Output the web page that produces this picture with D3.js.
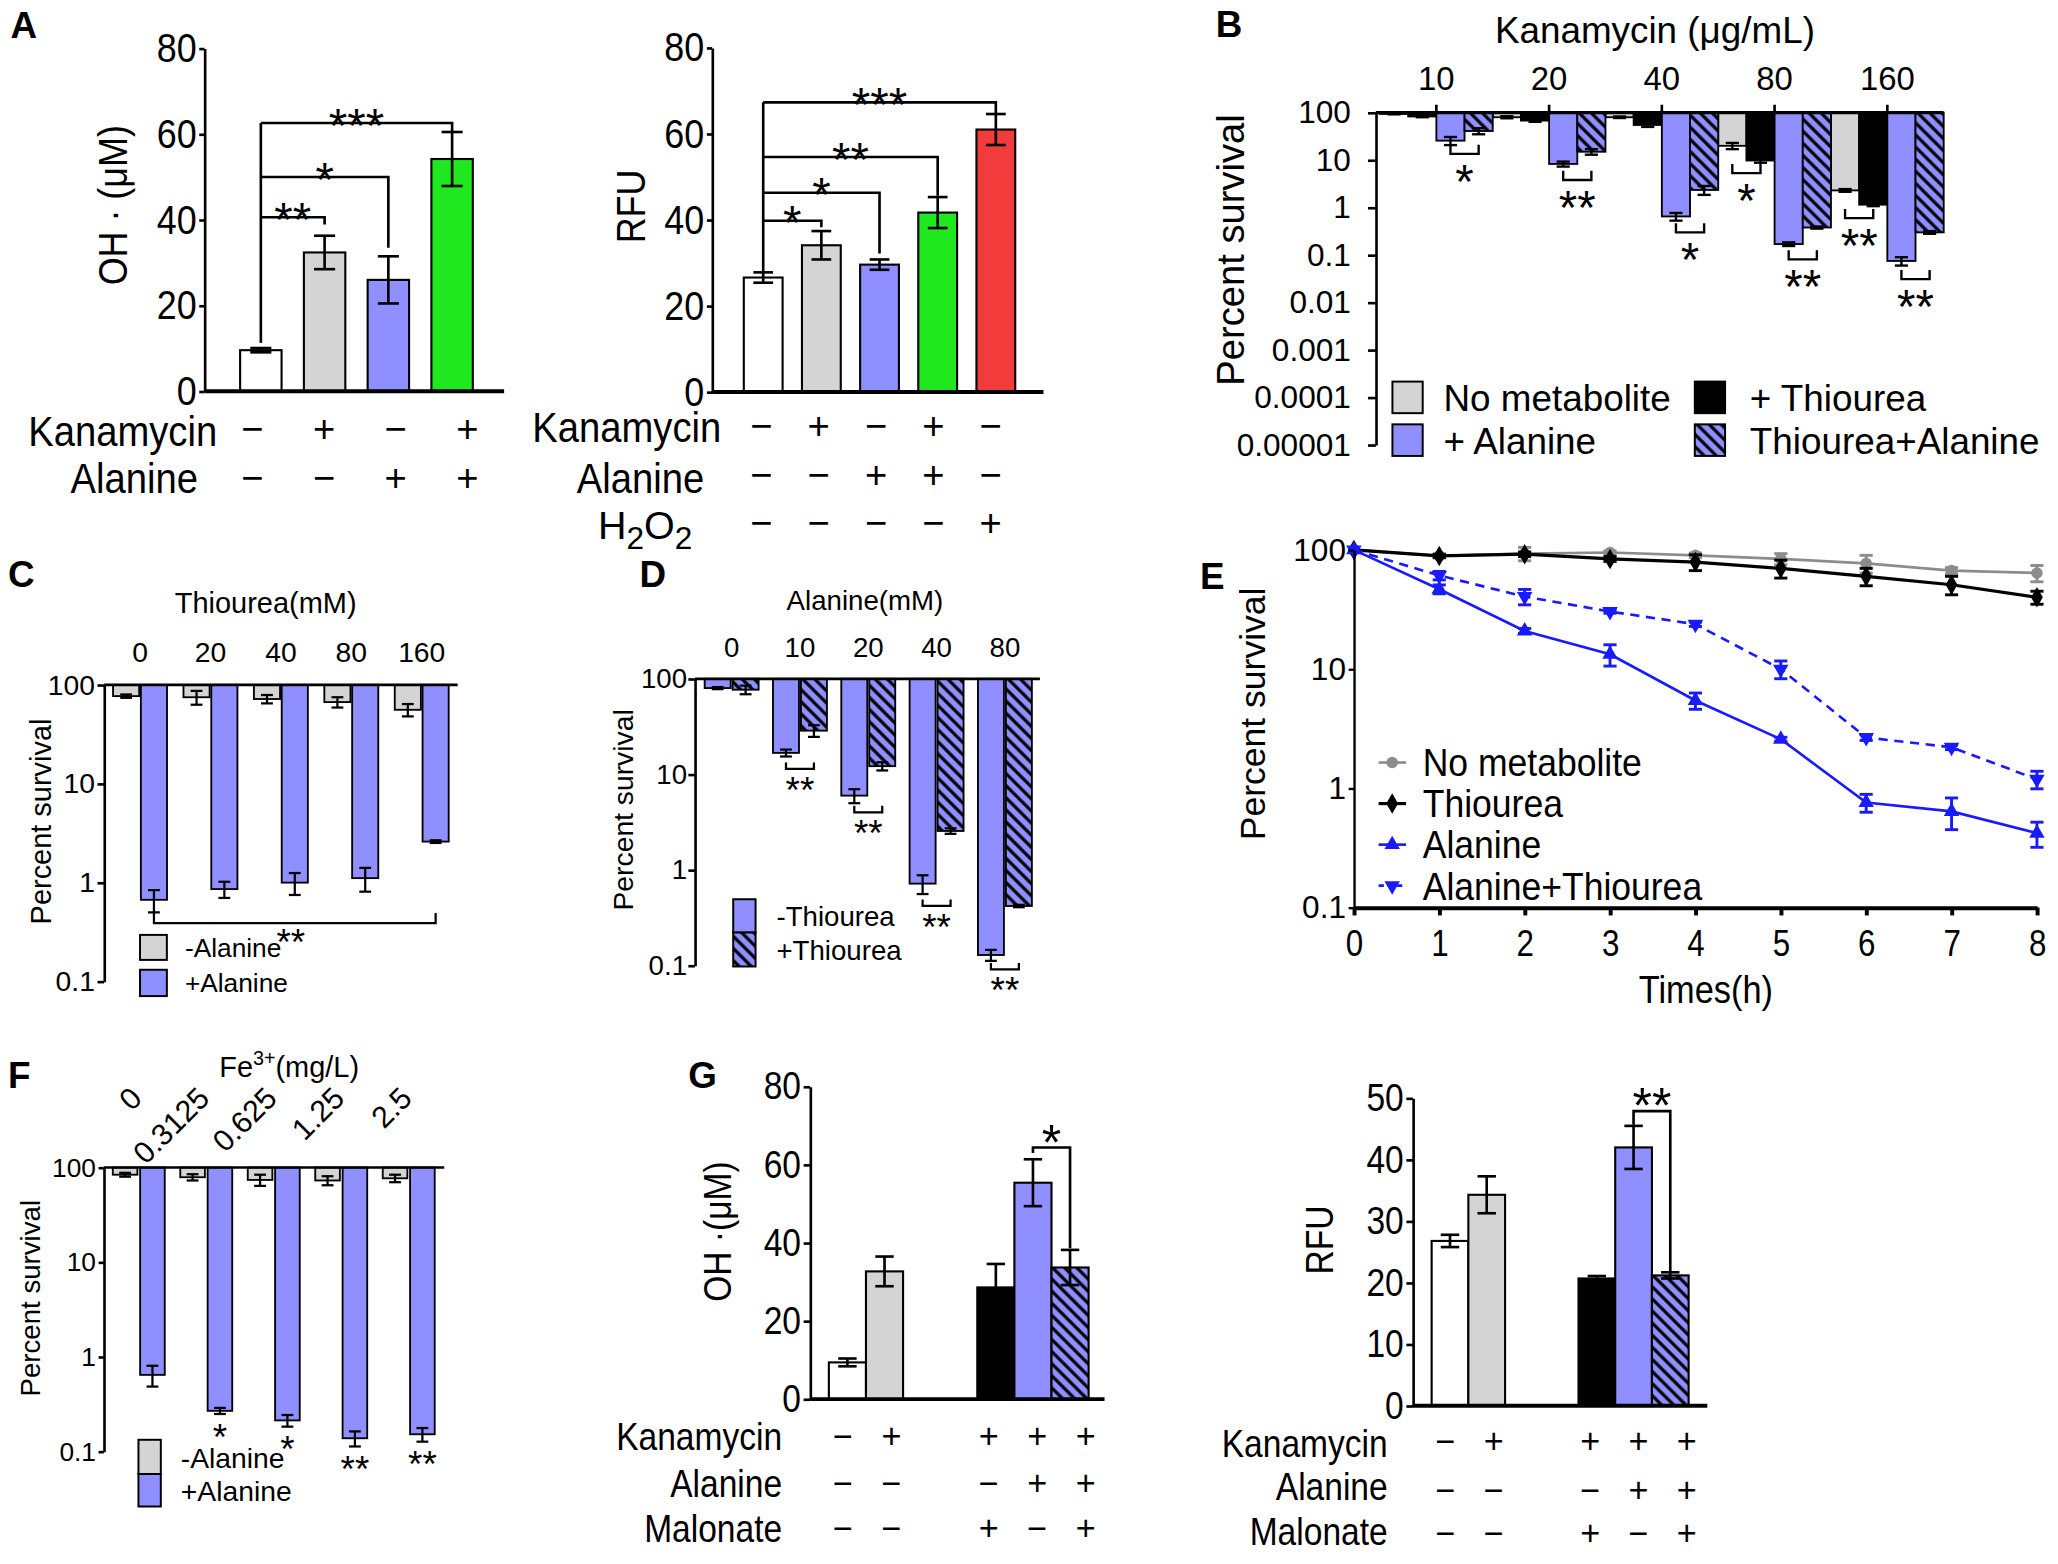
<!DOCTYPE html>
<html>
<head>
<meta charset="utf-8">
<title>Alanine, ROS and kanamycin killing</title>
<script src="https://cdn.jsdelivr.net/npm/d3@7"></script>
<style>
  html, body { margin: 0; padding: 0; background: #fff; }
  svg { display: block; }
</style>
</head>
<body>
<svg id="fig"></svg>
<script>
var FONT = "'Liberation Sans', Arial, Helvetica, sans-serif";
var WHITE = "#ffffff", GREY = "#d4d4d4", BLUE = "#8f8fff", GREEN = "#1fe81f", RED = "#f23c3c";
var LINE_GREY = "#8c8c8c", LINE_BLUE = "#1a1aff";

// ---- panel A, hydroxyl radical ----
var aOhKanamycin = ["−", "+", "−", "+"];
var aOhAlanine = ["−", "−", "+", "+"];
var aOhValues = [9.6, 32.4, 26.0, 54.2];
var aOhErrors = [0.5, 3.9, 5.5, 6.3];
var aOhTicks = [0, 20, 40, 60, 80];
// vs first bar: [target, bracket level, end level, stars]
var aOhSig = [[1, 40.6, 38.9, "**"], [2, 50.0, 33.5, "*"], [3, 62.6, 60.6, "***"]];

// ---- panel A, RFU ----
var aRfuKanamycin = ["−", "+", "−", "+", "−"];
var aRfuAlanine = ["−", "−", "+", "+", "−"];
var aRfuH2O2 = ["−", "−", "−", "−", "+"];
var aRfuValues = [26.6, 34.1, 29.6, 41.7, 61.0];
var aRfuErrors = [1.2, 3.3, 1.2, 3.6, 3.6];
var aRfuSig = [[1, 39.8, 38.3, "*"], [2, 46.3, 32.2, "*"], [3, 54.6, 45.6, "**"], [4, 67.3, 64.8, "***"]];

// ---- panel B ----
var bDoses = ["10", "20", "40", "80", "160"];
var bSeries = ["No metabolite", "+ Thiourea", "+ Alanine", "Thiourea+Alanine"];
var bNoMetabolite = [94, 80, 80, 20, 2.3];
var bNoMetaboliteErr = [2, 4, 3, 3, 0.15];
var bThiourea = [83, 68, 55, 9.8, 1.15];
var bThioureaErr = [3, 4, 5, 1, 0.08];
var bAlanine = [25.7, 8.3, 0.65, 0.17, 0.075];
var bAlanineErr = [5, 1, 0.12, 0.015, 0.015];
var bThioAla = [41, 15, 2.35, 0.38, 0.30];
var bThioAlaErr = [6, 2, 0.5, 0.02, 0.02];
var bTicks = [100, 10, 1, 0.1, 0.01, 0.001, 0.0001, 0.00001];
var bTickLabels = ["100", "10", "1", "0.1", "0.01", "0.001", "0.0001", "0.00001"];
// [dose, left series, right series, bracket level, stars]
var bSig = [["10", 2, 3, 13.5, "*"], ["20", 2, 3, 3.8, "**"], ["40", 2, 3, 0.3, "*"],
            ["80", 0, 1, 5.3, "*"], ["80", 2, 3, 0.081, "**"], ["160", 0, 1, 0.6, "**"], ["160", 2, 3, 0.031, "**"]];

// ---- panel C ----
var cThiourea = ["0", "20", "40", "80", "160"];
var cNoAlanine = [77, 75, 72, 67, 56];
var cNoAlanineErr = [3, 12, 7, 8, 8];
var cAlanine = [0.67, 0.86, 1.0, 1.11, 2.6];
var cAlanineErr = [0.17, 0.16, 0.25, 0.3, 0.08];
var cSigLevel = 0.39;
var survTicks = [100, 10, 1, 0.1];
var survTickLabels = ["100", "10", "1", "0.1"];

// ---- panel D ----
var dAlanine = ["0", "10", "20", "40", "80"];
var dNoThiourea = [80, 16.8, 6.0, 0.72, 0.129];
var dNoThioureaErr = [2, 1.4, 1.0, 0.16, 0.017];
var dThiourea = [77, 28.7, 12.2, 2.56, 0.42];
var dThioureaErr = [8, 4, 1.2, 0.17, 0.012];
var dSig = [["10", 11.4, "**"], ["20", 4.0, "**"], ["40", 0.42, "**"], ["80", 0.091, "**"]];

// ---- panel E ----
var eHours = [0, 1, 2, 3, 4, 5, 6, 7, 8];
var eNoMetabolite = [100, 89, 93, 95, 90, 84, 77, 67, 64];
var eNoMetaboliteErr = [0, 3, 12, 3, 4, 9, 13, 4, 10];
var eThiourea = [100, 89, 92, 84, 79, 70, 60, 51, 40];
var eThioureaErr = [0, 3, 4, 4, 12, 12, 10, 9, 5];
var eAlanine = [100, 46.8, 20.9, 13.3, 5.45, 2.58, 0.76, 0.64, 0.42];
var eAlanineErr = [0, 4, 1, 2.7, 0.85, 0.1, 0.13, 0.19, 0.1];
var eAlaThio = [100, 61, 40.6, 30.4, 23.8, 10, 2.67, 2.21, 1.19];
var eAlaThioErr = [0, 5, 6, 1, 1, 1.7, 0.15, 0.1, 0.2];
var eLegend = ["No metabolite", "Thiourea", "Alanine", "Alanine+Thiourea"];

// ---- panel F ----
var fIron = ["0", "0.3125", "0.625", "1.25", "2.5"];
var fNoAlanine = [84, 79, 74, 73, 77];
var fNoAlanineErr = [4, 6, 10, 8, 7];
var fAlanine = [0.645, 0.269, 0.213, 0.138, 0.152];
var fAlanineErr = [0.16, 0.02, 0.03, 0.025, 0.025];
var fSig = ["", "*", "*", "**", "**"];

// ---- panel G ----
var gKanamycin = ["−", "+", "+", "+", "+"];
var gAlanine = ["−", "−", "−", "+", "+"];
var gMalonate = ["−", "−", "+", "−", "+"];
var gOhValues = [9.4, 32.7, 28.6, 55.4, 33.7];
var gOhErrors = [1, 3.8, 6, 6, 4.5];
var gRfuValues = [26.8, 34.3, 20.7, 42.0, 21.2];
var gRfuErrors = [1, 3, 0.4, 3.5, 0.5];
var gRfuTicks = [0, 10, 20, 30, 40, 50];

// ------------------------------------------------------------------
var svg = d3.select("#fig")
    .attr("width", 2058)
    .attr("height", 1564)
    .attr("viewBox", "0 0 1564 1188.6")
    .style("font-family", FONT);

var pat = svg.append("defs").append("pattern")
    .attr("id", "hatch")
    .attr("patternUnits", "userSpaceOnUse")
    .attr("width", 6.5).attr("height", 6.5)
    .attr("patternTransform", "rotate(-45)");
pat.append("rect").attr("width", 6.5).attr("height", 6.5).attr("fill", BLUE);
pat.append("line").attr("x1", 1.4).attr("x2", 1.4).attr("y1", 0).attr("y2", 6.5)
    .attr("stroke", "#000").attr("stroke-width", 2.4);

function squeeze(node, k) {
    var len = node.getComputedTextLength();
    d3.select(node).attr("textLength", len * k).attr("lengthAdjust", "spacingAndGlyphs");
}

function label(g, x, y, s, size, opt) {
    opt = opt || {};
    var t = g.append("text")
        .attr("font-size", size)
        .attr("text-anchor", opt.anchor || "start")
        .attr("dy", opt.dy == null ? "0.35em" : opt.dy)
        .text(s);
    if (opt.rotate) t.attr("transform", "translate(" + x + "," + y + ") rotate(" + opt.rotate + ")");
    else t.attr("x", x).attr("y", y);
    if (opt.weight) t.attr("font-weight", opt.weight);
    if (opt.k) squeeze(t.node(), opt.k);
    return t;
}

function stars(g, x, yc, s, size) {
    return label(g, x, yc, s, size, {anchor: "middle", dy: "0.56em"});
}

function line(g, x1, y1, x2, y2, sw, color) {
    return g.append("line").attr("x1", x1).attr("y1", y1).attr("x2", x2).attr("y2", y2)
        .attr("stroke", color || "#000").attr("stroke-width", sw || 2);
}

function path(g, d, sw) {
    return g.append("path").attr("d", d).attr("fill", "none").attr("stroke", "#000")
        .attr("stroke-width", sw || 2);
}

function errBar(g, cx, y1, y2, cap, color, sw) {
    color = color || "#000";
    line(g, cx, y1, cx, y2, sw, color);
    line(g, cx - cap / 2, y1, cx + cap / 2, y1, sw, color);
    line(g, cx - cap / 2, y2, cx + cap / 2, y2, sw, color);
}

function leftAxis(g, x, scale, ticks, labels, size, tickSize, pad, k, sw) {
    var ax = d3.axisLeft(scale).tickValues(ticks).tickSize(tickSize).tickPadding(pad).tickSizeOuter(0);
    if (labels) ax.tickFormat(function (d, i) { return labels[i]; });
    var a = g.append("g").attr("transform", "translate(" + x + ",0)").call(ax);
    a.attr("font-size", size).attr("font-family", FONT);
    a.selectAll("line, path").attr("stroke-width", sw || 2);
    if (k) a.selectAll("text").each(function () { squeeze(this, k); });
    return a;
}

function signRows(g, xs, rows, ys, size) {
    rows.forEach(function (signs, r) {
        signs.forEach(function (s, i) {
            label(g, xs(i), ys[r], s, size, {anchor: "middle"});
        });
    });
}

function panelLetter(x, y, s) {
    label(svg, x, y, s, 28, {weight: "bold", dy: 0});
}

// ------------------------------------------------------------------
// A, OH radical
(function () {
    var g = svg.append("g");
    var x = d3.scaleBand().domain(d3.range(aOhValues.length)).range([174, 367.8])
        .paddingInner(0.35).paddingOuter(0.175);
    var y = d3.scaleLinear().domain([0, 80]).range([297.4, 36.8]);
    var cx = function (i) { return x(i) + x.bandwidth() / 2; };
    var fills = [WHITE, GREY, BLUE, GREEN];

    g.selectAll("rect").data(aOhValues).join("rect")
        .attr("x", function (d, i) { return x(i); })
        .attr("y", function (d) { return y(d); })
        .attr("width", x.bandwidth())
        .attr("height", function (d) { return y(0) - y(d); })
        .attr("fill", function (d, i) { return fills[i]; })
        .attr("stroke", "#000").attr("stroke-width", 1.6);
    aOhValues.forEach(function (v, i) {
        errBar(g, cx(i), y(v + aOhErrors[i]), y(v - aOhErrors[i]), 16, "#000", 2);
    });

    leftAxis(g, 155.4, y, aOhTicks, null, 31, 4, 2, 0.88);
    line(g, 155.4, y(0), 383.1, y(0), 3);

    var x0 = cx(0);
    var top = d3.max(aOhSig, function (s) { return s[1]; });
    line(g, x0, y(top), x0, y(aOhValues[0] + aOhErrors[0] + 1.2), 2);
    aOhSig.forEach(function (s) {
        path(g, "M" + x0 + "," + y(s[1]) + "H" + cx(s[0]) + "V" + y(s[2]));
        stars(g, (x0 + cx(s[0])) / 2, y(s[1]) - 6, s[3], 36);
    });

    label(g, 85.7, 156, "OH · (μM)", 31, {anchor: "middle", rotate: -90, k: 0.88});
    label(g, 21.4, 327.4, "Kanamycin", 33, {k: 0.88});
    label(g, 53.6, 362.8, "Alanine", 33, {k: 0.88});
    var sx = d3.scalePoint().domain(d3.range(4)).range([191.8, 355.2]);
    signRows(g, sx, [aOhKanamycin, aOhAlanine], [326, 362.8], 29);
})();

// A, RFU
(function () {
    var g = svg.append("g");
    var x = d3.scaleBand().domain(d3.range(aRfuValues.length)).range([557.9, 778.9])
        .paddingInner(0.333).paddingOuter(0.1665);
    var y = d3.scaleLinear().domain([0, 80]).range([297.9, 36.3]);
    var cx = function (i) { return x(i) + x.bandwidth() / 2; };
    var fills = [WHITE, GREY, BLUE, GREEN, RED];

    g.selectAll("rect").data(aRfuValues).join("rect")
        .attr("x", function (d, i) { return x(i); })
        .attr("y", function (d) { return y(d); })
        .attr("width", x.bandwidth())
        .attr("height", function (d) { return y(0) - y(d); })
        .attr("fill", function (d, i) { return fills[i]; })
        .attr("stroke", "#000").attr("stroke-width", 1.6);
    aRfuValues.forEach(function (v, i) {
        errBar(g, cx(i), y(v + aRfuErrors[i]), y(v - aRfuErrors[i]), 15, "#000", 2);
    });

    leftAxis(g, 541.2, y, aOhTicks, null, 31, 4, 2, 0.88);
    line(g, 541.2, y(0), 793, y(0), 3);

    var x0 = cx(0);
    var top = d3.max(aRfuSig, function (s) { return s[1]; });
    line(g, x0, y(top), x0, y(aRfuValues[0] + aRfuErrors[0] + 0.3), 2);
    aRfuSig.forEach(function (s) {
        path(g, "M" + x0 + "," + y(s[1]) + "H" + cx(s[0]) + "V" + y(s[2]));
        stars(g, (x0 + cx(s[0])) / 2, y(s[1]) - 6, s[3], 36);
    });

    label(g, 479.5, 156.9, "RFU", 31, {anchor: "middle", rotate: -90, k: 0.88});
    label(g, 404.5, 324.6, "Kanamycin", 33, {k: 0.88});
    label(g, 438.3, 362.8, "Alanine", 33, {k: 0.88});
    var h = g.append("text").attr("x", 454.4).attr("y", 410).attr("font-size", 30);
    h.append("tspan").text("H");
    h.append("tspan").attr("dy", 7).attr("font-size", 24).text("2");
    h.append("tspan").attr("dy", -7).text("O");
    h.append("tspan").attr("dy", 7).attr("font-size", 24).text("2");
    var sx = d3.scalePoint().domain(d3.range(5)).range([578.7, 752.8]);
    signRows(g, sx, [aRfuKanamycin, aRfuAlanine, aRfuH2O2], [323.3, 360.6, 397], 29);
})();

// B, kanamycin dose series
(function () {
    var g = svg.append("g");
    var x = d3.scaleBand().domain(bDoses).range([1048.75, 1477.15]);
    var inner = d3.scaleBand().domain(d3.range(4)).range([0, x.bandwidth()]);
    var y = d3.scaleLog().domain([1e-5, 100]).range([338.1, 85.6]);
    var series = [bNoMetabolite, bThiourea, bAlanine, bThioAla];
    var errs = [bNoMetaboliteErr, bThioureaErr, bAlanineErr, bThioAlaErr];
    var fills = [GREY, "#000", BLUE, "url(#hatch)"];
    var cx = function (dose, s) { return x(dose) + inner(s) + inner.bandwidth() / 2; };

    series.forEach(function (vals, s) {
        g.selectAll(null).data(vals).join("rect")
            .attr("x", function (d, i) { return x(bDoses[i]) + inner(s); })
            .attr("y", y(100))
            .attr("width", inner.bandwidth())
            .attr("height", function (d) { return y(d) - y(100); })
            .attr("fill", fills[s]).attr("stroke", "#000").attr("stroke-width", 1.4);
    });
    series.forEach(function (vals, s) {
        vals.forEach(function (v, i) {
            var e = errs[s][i];
            errBar(g, cx(bDoses[i], s), y(v + e), y(v - e), 10, "#000", 1.8);
        });
    });

    leftAxis(g, 1045.6, y, bTicks, bTickLabels, 24, 6, 13, null, 2);
    var ta = g.append("g").attr("transform", "translate(0," + y(100) + ")")
        .call(d3.axisTop(x).tickSize(6).tickPadding(11));
    ta.select(".domain").remove();
    ta.attr("font-size", 25).attr("font-family", FONT);
    ta.selectAll("line").attr("stroke-width", 2);
    line(g, 1045.6, y(100), 1477, y(100), 2.6);

    bSig.forEach(function (s) {
        var x1 = cx(s[0], s[1]), x2 = cx(s[0], s[2]), yl = y(s[3]);
        path(g, "M" + x1 + "," + (yl - 7) + "V" + yl + "H" + x2 + "V" + (yl - 7), 1.8);
        stars(g, (x1 + x2) / 2, yl + 13, s[4], 36);
    });

    label(g, 1257.7, 22.8, "Kanamycin (μg/mL)", 28, {anchor: "middle"});
    label(g, 934.9, 190, "Percent survival", 29, {anchor: "middle", rotate: -90});

    // legend: grey/black on the first row, blue/hatched on the second
    var boxX = [1058.2, 1288], boxY = [290, 322.5], textX = [1097, 1329.8];
    var order = [[0, 0, 0], [1, 1, 0], [2, 0, 1], [3, 1, 1]];
    order.forEach(function (o) {
        g.append("rect").attr("x", boxX[o[1]]).attr("y", boxY[o[2]]).attr("width", 23).attr("height", 24)
            .attr("fill", fills[o[0]]).attr("stroke", "#000").attr("stroke-width", 1.5);
        label(g, textX[o[1]], boxY[o[2]] + 12.5, bSeries[o[0]], 28);
    });
})();

// C, thiourea dose
(function () {
    var g = svg.append("g");
    var x = d3.scaleBand().domain(cThiourea).range([79.65, 347.25]);
    var inner = d3.scaleBand().domain([0, 1]).range([-20.5, 20.5]).paddingInner(0.06);
    var y = d3.scaleLog().domain([0.1, 100]).range([745.9, 520.5]);
    var series = [cNoAlanine, cAlanine], errs = [cNoAlanineErr, cAlanineErr];
    var fills = [GREY, BLUE];
    var cx = function (d, s) { return x(d) + x.bandwidth() / 2 + inner(s) + inner.bandwidth() / 2; };

    series.forEach(function (vals, s) {
        g.selectAll(null).data(vals).join("rect")
            .attr("x", function (d, i) { return x(cThiourea[i]) + x.bandwidth() / 2 + inner(s); })
            .attr("y", y(100))
            .attr("width", inner.bandwidth())
            .attr("height", function (d) { return y(d) - y(100); })
            .attr("fill", fills[s]).attr("stroke", "#000").attr("stroke-width", 1.4);
        vals.forEach(function (v, i) {
            errBar(g, cx(cThiourea[i], s), y(v + errs[s][i]), y(v - errs[s][i]), 9, "#000", 1.7);
        });
    });

    leftAxis(g, 79.1, y, survTicks, survTickLabels, 21.5, 5, 2, null, 2);
    line(g, 79.1, y(100), 347.8, y(100), 2);
    var ta = g.append("g").attr("transform", "translate(0," + y(100) + ")")
        .call(d3.axisTop(x).tickSize(0).tickPadding(17.5));
    ta.select(".domain").remove();
    ta.attr("font-size", 21.5).attr("font-family", FONT);

    var x1 = cx(cThiourea[0], 1), x2 = cx(cThiourea[4], 1), yl = y(cSigLevel);
    path(g, "M" + x1 + "," + (yl - 7.6) + "V" + yl + "H" + x2 + "V" + (yl - 7.6), 1.7);
    stars(g, (x1 + x2) / 2 - 3, yl + 8.4, "**", 28);

    label(g, 201.9, 458.4, "Thiourea(mM)", 22, {anchor: "middle"});
    label(g, 31.4, 624.3, "Percent survival", 22, {anchor: "middle", rotate: -90});
    g.append("rect").attr("x", 106.4).attr("y", 710.5).attr("width", 20.4).attr("height", 19)
        .attr("fill", GREY).attr("stroke", "#000").attr("stroke-width", 1.5);
    g.append("rect").attr("x", 106.4).attr("y", 737).attr("width", 20.4).attr("height", 20)
        .attr("fill", BLUE).attr("stroke", "#000").attr("stroke-width", 1.5);
    label(g, 140.5, 720.6, "-Alanine", 20);
    label(g, 140.5, 747.2, "+Alanine", 20);
})();

// D, alanine dose with/without thiourea
(function () {
    var g = svg.append("g");
    var x = d3.scaleBand().domain(dAlanine).range([530.05, 789.65]);
    var inner = d3.scaleBand().domain([0, 1]).range([-20.5, 20.5]).paddingInner(0.07);
    var y = d3.scaleLog().domain([0.1, 100]).range([733.8, 515.9]);
    var series = [dNoThiourea, dThiourea], errs = [dNoThioureaErr, dThioureaErr];
    var fills = [BLUE, "url(#hatch)"];
    var cx = function (d, s) { return x(d) + x.bandwidth() / 2 + inner(s) + inner.bandwidth() / 2; };

    series.forEach(function (vals, s) {
        g.selectAll(null).data(vals).join("rect")
            .attr("x", function (d, i) { return x(dAlanine[i]) + x.bandwidth() / 2 + inner(s); })
            .attr("y", y(100))
            .attr("width", inner.bandwidth())
            .attr("height", function (d) { return y(d) - y(100); })
            .attr("fill", fills[s]).attr("stroke", "#000").attr("stroke-width", 1.4);
        vals.forEach(function (v, i) {
            errBar(g, cx(dAlanine[i], s), y(v + errs[s][i]), y(v - errs[s][i]), 9, "#000", 1.7);
        });
    });

    leftAxis(g, 528.1, y, survTicks, survTickLabels, 21, 5, 1, null, 2);
    line(g, 528.1, y(100), 790.3, y(100), 2);
    var ta = g.append("g").attr("transform", "translate(0," + y(100) + ")")
        .call(d3.axisTop(x).tickSize(0).tickPadding(16.6));
    ta.select(".domain").remove();
    ta.attr("font-size", 21).attr("font-family", FONT);

    dSig.forEach(function (s) {
        var x1 = cx(s[0], 0), x2 = cx(s[0], 1), yl = y(s[1]);
        path(g, "M" + x1 + "," + (yl - 5) + "V" + yl + "H" + x2 + "V" + (yl - 5), 1.7);
        stars(g, (x1 + x2) / 2, yl + 10, s[2], 28);
    });

    label(g, 657.3, 455.9, "Alanine(mM)", 21, {anchor: "middle"});
    label(g, 473.6, 615.5, "Percent survival", 21.5, {anchor: "middle", rotate: -90});
    g.append("rect").attr("x", 557.2).attr("y", 683.4).attr("width", 17).attr("height", 25.3)
        .attr("fill", BLUE).attr("stroke", "#000").attr("stroke-width", 1.5);
    g.append("rect").attr("x", 557.2).attr("y", 708.7).attr("width", 17).attr("height", 25.8)
        .attr("fill", "url(#hatch)").attr("stroke", "#000").attr("stroke-width", 1.5);
    label(g, 590.1, 696.5, "-Thiourea", 21);
    label(g, 590.1, 721.9, "+Thiourea", 21);
})();

// E, time course
(function () {
    var g = svg.append("g");
    var x = d3.scaleLinear().domain([0, 8]).range([1028.9, 1548]);
    var y = d3.scaleLog().domain([0.1, 100]).range([689.7, 417.9]);
    var sets = [
        {v: eNoMetabolite, e: eNoMetaboliteErr, color: LINE_GREY, sym: d3.symbolCircle, size: 60, rot: 0, dash: null, w: 2},
        {v: eThiourea, e: eThioureaErr, color: "#000", sym: d3.symbolDiamond, size: 70, rot: 0, dash: null, w: 2.4},
        {v: eAlanine, e: eAlanineErr, color: LINE_BLUE, sym: d3.symbolTriangle, size: 60, rot: 0, dash: null, w: 2},
        {v: eAlaThio, e: eAlaThioErr, color: LINE_BLUE, sym: d3.symbolTriangle, size: 60, rot: 180, dash: "7,5", w: 2}
    ];
    var ln = d3.line().x(function (d, i) { return x(eHours[i]); }).y(function (d) { return y(d); });

    sets.forEach(function (s) {
        g.append("path").attr("d", ln(s.v)).attr("fill", "none")
            .attr("stroke", s.color).attr("stroke-width", s.w).attr("stroke-dasharray", s.dash);
        s.v.forEach(function (v, i) {
            if (s.e[i] > 0) errBar(g, x(eHours[i]), y(v + s.e[i]), y(v - s.e[i]), 10, s.color, 2.2);
        });
        g.selectAll(null).data(s.v).join("path")
            .attr("d", d3.symbol().type(s.sym).size(s.size))
            .attr("transform", function (d, i) { return "translate(" + x(eHours[i]) + "," + y(d) + ") rotate(" + s.rot + ")"; })
            .attr("fill", s.color);
    });

    leftAxis(g, 1028.9, y, survTicks, survTickLabels, 24, 4, 2, null, 1.8);
    var xa = g.append("g").attr("transform", "translate(0," + y(0.1) + ")")
        .call(d3.axisBottom(x).tickValues(eHours).tickSize(6).tickPadding(11).tickSizeOuter(0));
    xa.attr("font-size", 28).attr("font-family", FONT);
    xa.selectAll("line, path").attr("stroke-width", 3);
    xa.selectAll("text").each(function () { squeeze(this, 0.85); });

    label(g, 1296.4, 752.2, "Times(h)", 29, {anchor: "middle", k: 0.9});
    label(g, 951.6, 542.5, "Percent survival", 27, {anchor: "middle", rotate: -90});

    sets.forEach(function (s, i) {
        var yc = 579.5 + i * 31.2;
        g.append("line").attr("x1", 1047.7).attr("x2", 1068.6).attr("y1", yc).attr("y2", yc)
            .attr("stroke", s.color).attr("stroke-width", s.w).attr("stroke-dasharray", s.dash ? "4,3" : null);
        g.append("path").attr("d", d3.symbol().type(s.sym).size(s.size)())
            .attr("transform", "translate(1058," + yc + ") rotate(" + s.rot + ")").attr("fill", s.color);
        label(g, 1081.2, yc, eLegend[i], 30, {k: 0.9});
    });
})();

// F, ferric iron
(function () {
    var g = svg.append("g");
    var x = d3.scaleBand().domain(fIron).range([79.55, 336]);
    var inner = d3.scaleBand().domain([0, 1]).range([-19.5, 20]).paddingInner(0.1);
    var y = d3.scaleLog().domain([0.1, 100]).range([1103.1, 887.3]);
    var series = [fNoAlanine, fAlanine], errs = [fNoAlanineErr, fAlanineErr];
    var fills = [GREY, BLUE];
    var c = function (d) { return x(d) + x.bandwidth() / 2; };
    var cx = function (d, s) { return c(d) + inner(s) + inner.bandwidth() / 2; };

    series.forEach(function (vals, s) {
        g.selectAll(null).data(vals).join("rect")
            .attr("x", function (d, i) { return c(fIron[i]) + inner(s); })
            .attr("y", y(100))
            .attr("width", inner.bandwidth())
            .attr("height", function (d) { return y(d) - y(100); })
            .attr("fill", fills[s]).attr("stroke", "#000").attr("stroke-width", 1.4);
        vals.forEach(function (v, i) {
            errBar(g, cx(fIron[i], s), y(v + errs[s][i]), y(v - errs[s][i]), 9, "#000", 1.7);
        });
    });
    fAlanine.forEach(function (v, i) {
        if (fSig[i]) stars(g, cx(fIron[i], 1), y(v - fAlanineErr[i]) + 11.5, fSig[i], 28);
    });

    leftAxis(g, 78.9, y, survTicks, survTickLabels, 20, 4, 2, null, 2);
    line(g, 78.9, y(100), 337.6, y(100), 2);
    fIron.forEach(function (d) {
        label(g, c(d) + 4, 836, d, 23, {anchor: "end", rotate: -45, dy: 0});
    });

    var t = g.append("text").attr("x", 166.6).attr("y", 818.5).attr("font-size", 22);
    t.append("tspan").text("Fe");
    t.append("tspan").attr("dy", -9).attr("font-size", 15).text("3+");
    t.append("tspan").attr("dy", 9).text("(mg/L)");
    label(g, 23.4, 986.6, "Percent survival", 21, {anchor: "middle", rotate: -90});

    g.append("rect").attr("x", 105.2).attr("y", 1094.2).attr("width", 17).attr("height", 26)
        .attr("fill", GREY).attr("stroke", "#000").attr("stroke-width", 1.5);
    g.append("rect").attr("x", 105.2).attr("y", 1120.2).attr("width", 17).attr("height", 24.7)
        .attr("fill", BLUE).attr("stroke", "#000").attr("stroke-width", 1.5);
    label(g, 137.4, 1108.2, "-Alanine", 21.5);
    label(g, 137.4, 1133.5, "+Alanine", 21.5);
})();

// G, malonate
function panelG(o) {
    var g = svg.append("g");
    var x = d3.scaleBand().domain(d3.range(7)).range(o.xr);
    var slots = [0, 1, 4, 5, 6];
    var y = d3.scaleLinear().domain([0, o.max]).range(o.yr);
    var fills = [WHITE, GREY, "#000", BLUE, "url(#hatch)"];
    var cx = function (i) { return x(slots[i]) + x.bandwidth() / 2; };

    g.selectAll("rect").data(o.values).join("rect")
        .attr("x", function (d, i) { return x(slots[i]); })
        .attr("y", function (d) { return y(d); })
        .attr("width", x.bandwidth())
        .attr("height", function (d) { return y(0) - y(d); })
        .attr("fill", function (d, i) { return fills[i]; })
        .attr("stroke", "#000").attr("stroke-width", 1.6);
    o.values.forEach(function (v, i) {
        errBar(g, cx(i), y(v + o.errors[i]), y(v - o.errors[i]), 14, "#000", 2);
    });

    leftAxis(g, o.axisX, y, o.ticks, null, 29, 5, 2, 0.88);
    line(g, o.axisX, y(0), o.xEnd, y(0), 3);

    var s = o.sig;
    path(g, "M" + cx(3) + "," + y(s[1]) + "V" + y(s[0]) + "H" + cx(4) + "V" + y(s[2]));
    stars(g, (cx(3) + cx(4)) / 2, y(s[0]) - 12, s[3], 38);

    label(g, o.titleX, o.titleY, o.title, 30, {anchor: "middle", rotate: -90, k: 0.85});
    label(g, o.rowX, o.rowY[0], "Kanamycin", 30, {anchor: "end", k: 0.85});
    label(g, o.rowX, o.rowY[1], "Alanine", 30, {anchor: "end", k: 0.85});
    label(g, o.rowX, o.rowY[2], "Malonate", 30, {anchor: "end", k: 0.85});
    var sx = d3.scalePoint().domain(d3.range(6)).range(o.signX);
    var sxi = function (i) { return sx([0, 1, 3, 4, 5][i]); };
    signRows(g, sxi, [gKanamycin, gAlanine, gMalonate], o.signY, 26);
}

panelG({
    values: gOhValues, errors: gOhErrors, max: 80, ticks: aOhTicks,
    xr: [629.9, 827.3], yr: [1063.3, 825.8], axisX: 615.7, xEnd: 839.4,
    sig: [64.4, 63, 38.6, "*"],
    title: "OH ·(μM)", titleX: 544.7, titleY: 936,
    rowX: 594.4, rowY: [1091.7, 1127.2, 1161.4],
    signX: [640.6, 825.2], signY: [1091.7, 1127.2, 1161.4]
});
panelG({
    values: gRfuValues, errors: gRfuErrors, max: 50, ticks: gRfuTicks,
    xr: [1088, 1283.3], yr: [1068.4, 834.6], axisX: 1073.8, xEnd: 1297.5,
    sig: [47.9, 45.7, 21.8, "**"],
    title: "RFU", titleX: 1002.7, titleY: 942.3,
    rowX: 1054.6, rowY: [1096.8, 1129.7, 1163.9],
    signX: [1098.6, 1281.9], signY: [1095.5, 1132.2, 1164.7]
});

panelLetter(8, 29, "A");
panelLetter(924, 28, "B");
panelLetter(6, 446, "C");
panelLetter(486, 446, "D");
panelLetter(912, 448, "E");
panelLetter(6, 827, "F");
panelLetter(523, 827, "G");
</script>
</body>
</html>
